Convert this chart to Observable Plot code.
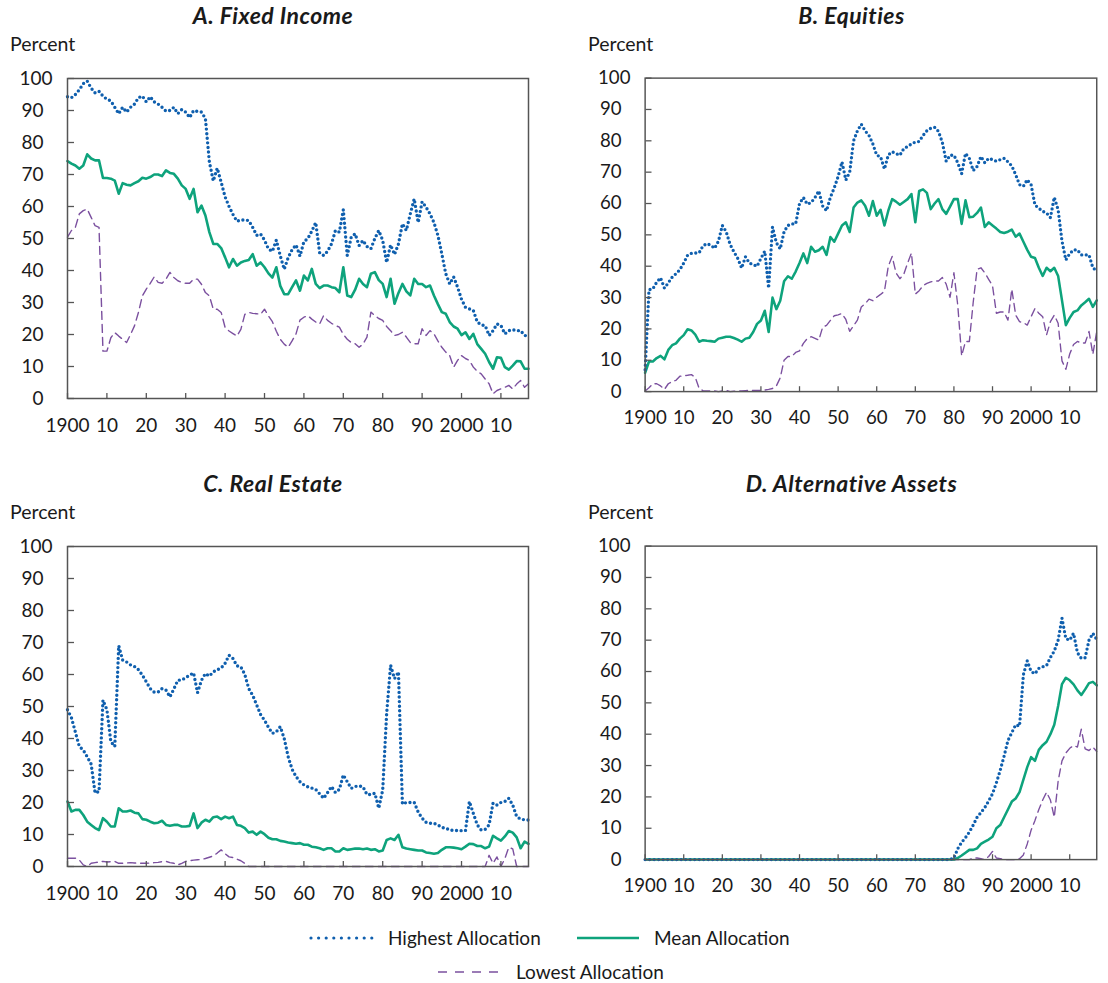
<!DOCTYPE html>
<html>
<head>
<meta charset="utf-8">
<script src="https://cdn.jsdelivr.net/npm/d3@7"></script>
<script src="https://cdn.jsdelivr.net/npm/@observablehq/plot@0.6"></script>
<style>
  body { margin: 0; background: #fff; font-family: Lato, "Noto Sans", sans-serif; color: #1a1a1a; }
  #wrap { position: relative; width: 1108px; height: 983px; overflow: hidden; }
  .title { position: absolute; font-weight: 700; font-style: italic; font-size: 23px; letter-spacing: 0.5px; line-height: 24px; text-align: center; white-space: nowrap; }
  .unit { position: absolute; font-size: 19.5px; line-height: 22px; }
  .panel { position: absolute; }
  .leg { position: absolute; font-size: 19px; line-height: 22px; white-space: nowrap; }
  .sample { position: absolute; }
</style>
</head>
<body>
<div id="wrap"></div>
<script>
// ---------------- data ----------------
const years = d3.range(1900, 2018);

const yTicks = [0, 10, 20, 30, 40, 50, 60, 70, 80, 90, 100];
const xTicks = [1900, 1910, 1920, 1930, 1940, 1950, 1960, 1970, 1980, 1990, 2000, 2010];
const xTickLabels = ["1900", "10", "20", "30", "40", "50", "60", "70", "80", "90", "2000", "10"];

const panelTitles = ["A. Fixed Income", "B. Equities", "C. Real Estate", "D. Alternative Assets"];
const seriesNames = ["Highest Allocation", "Mean Allocation", "Lowest Allocation"];

// A. Fixed Income
const fixedHigh = [
  94.3, 94, 95, 96.5, 98.4, 99.2, 97, 95.5, 96, 94.5,
  93.5, 93, 91, 89, 91, 89.5, 91, 92, 94, 94.5,
  92.7, 94.3, 92.7, 92, 91, 89.8, 90, 91, 89, 90.3,
  89.5, 87.8, 90, 89.7, 89.5, 87.5, 74, 68, 72, 67.6,
  63, 60, 57.5, 55.4, 55.8, 55.8, 55.6, 53.5, 51, 51.4,
  49.5, 46.7, 46, 49.5, 44.6, 40.4, 44, 46.5, 48, 44.5,
  49, 50, 52.3, 55, 45.5, 44.7, 46, 48.3, 52.5, 52,
  59, 44.7, 50.4, 51.5, 47.8, 49.4, 47.5, 46.8, 50, 52.5,
  49.4, 42.5, 48, 45, 48.3, 54.6, 52.5, 57.7, 62.4, 55,
  61.5, 59.8, 57.7, 55, 51, 45.2, 39, 35.8, 38, 34.8,
  31, 28.5, 28, 27.5, 23.9, 23, 22.8, 19.7, 21.2, 23.3,
  22.8, 20.2, 21.2, 21.5, 21.2, 21.2, 19.7, 19.5
];
const fixedMean = [
  74.2, 73.4, 72.8, 71.8, 72.8, 76.3, 75, 74.4, 74.4, 68.9,
  68.9, 68.7, 68.1, 64, 67.3, 66.8, 66.6, 67.3, 67.9, 69,
  68.7, 69.2, 70, 70, 69.5, 71.3, 70.5, 70.2, 68.7, 66.6,
  65.5, 62.4, 65.5, 58.2, 60.3, 57.2, 52, 48.3, 48.3, 47,
  44.1, 41, 43.6, 41.5, 42.5, 43, 43.3, 45.1, 41.5, 42.5,
  41, 39.1, 37.8, 41, 35.2, 32.6, 32.6, 34.8, 36.9, 33.7,
  38.4, 36.9, 40.5, 35.8, 34.5, 35.3, 35.3, 34.8, 34.5, 33.2,
  41, 32.2, 31.7, 34, 37.4, 35.8, 34.8, 39, 39.5, 37,
  35.8, 31.7, 37.4, 29.6, 33, 35.8, 33.5, 32.2, 37.4, 35.8,
  35.8, 34.8, 35.3, 32.2, 29.5, 27, 26.5, 23.9, 22.5, 21.8,
  19.8, 20.7, 18.6, 20.2, 17, 15.5, 14, 11.4, 9.3, 12.9,
  12.7, 9.8, 9, 10.3, 11.7, 11.6, 9.3, 9.3
];
const fixedLow = [
  50.4, 52.5, 53.5, 57.7, 58.7, 59.2, 56.6, 54, 53.5, 14.8,
  14.8, 19, 20.6, 19.5, 18.5, 17.5, 20, 22.7, 26.9, 32.1,
  34.2, 36, 38, 36.3, 36, 37.3, 39.4, 37.8, 36.8, 36.3,
  36, 36, 37.3, 37.3, 35.7, 33.1, 32.1, 27.9, 27.9, 26.9,
  22.2, 21.1, 20.3, 19.5, 21.6, 26.3, 26.9, 26.6, 26.5, 26.3,
  27.9, 25.8, 24, 21, 18.5, 17, 16, 18, 20.2, 24.5,
  25.4, 25.9, 24.8, 23.9, 23.3, 25.9, 24.4, 23.5, 22.8, 22.3,
  20, 18.5, 17.5, 17.1, 16, 17, 19.2, 27, 25.9, 25,
  24.4, 22.5, 21.2, 19.7, 20, 20.7, 19.2, 17.5, 17.1, 17.1,
  21.8, 19.7, 21.2, 20.2, 18, 16, 14.5, 13.4, 9.8, 11.9,
  13.4, 12.5, 11.9, 9.8, 8.5, 7.7, 6.1, 4.6, 1.5, 2.5,
  3, 3.5, 4.1, 3, 4.5, 5.6, 3.5, 4.6
];

// B. Equities
const equityHigh = [
  7, 32.5, 32.8, 34.9, 36.3, 33, 34.7, 36.5, 37.6, 38.9,
  41, 43.5, 44.1, 44.2, 44.3, 46.5, 47.2, 46.7, 45.7, 48,
  53, 51, 47, 44.6, 42.5, 39.4, 43, 41, 40.5, 40,
  42.5, 44.8, 33, 52.5, 47.5, 45.5, 51, 53, 53.5, 53.5,
  60, 61.9, 59.8, 60.3, 61.9, 64, 59.2, 57.7, 62, 65,
  68.6, 73.3, 67.5, 70, 80, 83.2, 85.3, 83.2, 81.7, 79,
  75.4, 74.9, 71, 75.5, 76.5, 75.9, 75.4, 77.5, 78.2, 79,
  79.6, 79.8, 81.7, 83.2, 84, 84.3, 83, 79.5, 73.5, 75.4,
  75.4, 73, 69.5, 76, 74.4, 70.5, 71.8, 75, 73, 74.4,
  74, 73.5, 74, 74.4, 73.3, 72, 69.2, 66, 65.5, 67.6,
  66, 59.5, 58.5, 57.5, 57, 55.5, 62, 58, 48, 42,
  44, 45.2, 45.2, 43.6, 43.6, 43.6, 39.5, 38.5
];
const equityMean = [
  6, 9.6, 9.6, 10.7, 11.4, 10.3, 13.3, 14.8, 15.4, 16.9,
  18, 19.9, 19.5, 18.2, 15.9, 16.4, 16.2, 16.1, 15.9, 16.9,
  17.2, 17.5, 17.5, 17.1, 16.6, 15.9, 16.9, 17.2, 19, 21.6,
  22.7, 25.8, 19, 30, 26.3, 29, 35.2, 36.8, 36, 38.3,
  41, 44.1, 41, 46.2, 44.6, 45.1, 46.2, 43.6, 49.3, 47.8,
  50.4, 53, 54, 50.9, 58.7, 60.3, 61, 59.3, 56.1, 60.8,
  56.1, 58, 53, 57.7, 61.4, 60.6, 59.6, 60.5, 61.4, 63,
  54, 64, 64.5, 63.4, 58.2, 60, 61.4, 58.2, 56.7, 59,
  61.4, 61.4, 53.5, 61, 55.6, 55.8, 57, 58.7, 52.5, 54,
  53, 52, 50.9, 50.6, 51, 51.7, 49.4, 50.4, 47.8, 45.2,
  43, 42.6, 39.5, 36.9, 39.5, 38.4, 39.5, 36.9, 29.1, 21.2,
  23.5, 25.4, 25.9, 27.5, 28.5, 29.6, 27, 29.1
];
const equityLow = [
  0.2, 1.2, 2.5, 2.5, 1.8, 0.7, 2.5, 3.2, 3.6, 4.9,
  5.1, 5.2, 5.4, 4.5, 1, 0.3, 0.2, 0.2, 0.2, 0,
  0.2, 0.4, 0, 0.1, 0.2, 0.2, 0.3, 0.4, 0.4, 0.4,
  0.4, 0.5, 0.7, 1, 1.8, 4.4, 10, 11.2, 11.2, 12.5,
  13, 15.4, 16.9, 17.5, 17, 16.4, 20.6, 21.1, 22.7, 24.2,
  24.5, 24.9, 23, 19.2, 21, 22.8, 27, 28, 29.5, 29,
  30.1, 31, 32, 40, 43.1, 37.9, 36, 37.4, 41, 44.2,
  31.1, 32.2, 33.8, 34.5, 35, 35.3, 35.3, 36.4, 34.3, 30.1,
  37.9, 27.5, 11.4, 16, 16, 28.5, 39, 39.5, 37.9, 35.8,
  33.8, 25, 25.4, 25.4, 22.8, 32.7, 24.4, 22.3, 22, 21.2,
  23.9, 26.5, 25, 23.9, 18.1, 22.3, 24.4, 21.8, 9.8, 7.1,
  12, 15, 16, 15.5, 15.5, 19.2, 11.9, 19.2
];

// C. Real Estate
const realHigh = [
  49, 46.5, 42, 37.5, 36.4, 34.3, 32, 23, 23.4, 52,
  49, 39, 37.5, 69, 64.5, 63.9, 63, 62.5, 61.5, 59.8,
  57.7, 55.6, 54.5, 54.5, 55.6, 55.1, 53, 55.5, 58.2, 58.3,
  59, 59.8, 60.5, 54.3, 58.2, 60.3, 59.5, 60.8, 61.5, 62,
  63.5, 66, 65, 62.7, 62.4, 60, 55.6, 53.5, 50.5, 47.5,
  45.7, 43.5, 41.6, 42.1, 43.7, 40, 34.3, 30.4, 28.1, 26.5,
  25.5, 24.9, 24.5, 24.1, 22.7, 21.3, 23.1, 25, 23.1, 24.1,
  28.6, 26.5, 24.4, 25, 25.2, 24.9, 22.5, 22.5, 22.9, 18.2,
  23.9, 47.8, 62.9, 58.7, 60.8, 19.5, 20, 20, 20, 17,
  15.1, 13.8, 13.5, 13.5, 13, 12.2, 12, 11.4, 11.3, 11.2,
  11.2, 11.2, 20.3, 16.6, 13, 11.4, 11.6, 13, 19.8, 19.2,
  20, 20.3, 21.3, 19.2, 15.6, 14.8, 14.6, 14.5
];
const realMean = [
  20.3, 17.2, 17.7, 17.7, 16.1, 14, 13, 12, 11.4, 15.1,
  14, 12.5, 12.5, 18.2, 17.2, 17.2, 17.5, 16.8, 16.6, 14.8,
  14.6, 14, 13.5, 13.7, 14.3, 13, 12.7, 13, 13, 12.5,
  12.5, 12.7, 16.6, 12, 13.7, 14.6, 14, 15.4, 15.6, 14.8,
  15.6, 15.1, 15.6, 13, 12.7, 12, 10.6, 10.9, 9.9, 10.9,
  10.1, 9, 8.5, 8.5, 8, 7.8, 7.5, 7.3, 7.1, 7.3,
  6.8, 6.8, 6.2, 6, 5.7, 5.2, 5.7, 5.7, 4.7, 4.7,
  5.7, 5.2, 5.4, 5.6, 5.6, 5.4, 5.6, 5.2, 5.4, 4.7,
  5, 8.3, 8.8, 8.3, 9.9, 6, 5.6, 5.4, 5.2, 5,
  5, 4.4, 4.2, 4, 4.2, 5.2, 6, 6, 5.9, 5.7,
  5.4, 6.2, 7.1, 7, 6.4, 6.4, 5.7, 6.2, 9.6, 8.8,
  8.1, 9.4, 11.1, 10.6, 9.1, 5.7, 7.8, 7.1
];
const realLow = [
  2.6, 2.6, 2.6, 2, 0.5, 0, 1, 1.2, 1.4, 1.6,
  1.4, 1.5, 1.6, 1, 1, 1.1, 1.2, 1.1, 1, 1,
  1, 1.1, 1.2, 1.3, 1.5, 1.6, 1.2, 1, 0.5, 1,
  1.6, 1.8, 2, 2.1, 2.2, 2.5, 2.9, 3.3, 4.2, 5.2,
  4, 3, 2.8, 2.3, 1.8, 1, 0, 0, 0, 0,
  0, 0, 0, 0, 0, 0, 0, 0, 0, 0,
  0, 0, 0, 0, 0, 0, 0, 0, 0, 0,
  0, 0, 0, 0, 0, 0, 0, 0, 0, 0,
  0, 0, 0, 0, 0, 0, 0, 0, 0, 0,
  0, 0, 0, 0, 0, 0, 0, 0, 0, 0,
  0, 0, 0, 0, 0, 0, 0, 3.5, 1, 3,
  0, 2.5, 6, 5.5, 0, 0, 0, 0
];

// D. Alternative Assets
const altHigh = [
  0, 0, 0, 0, 0, 0, 0, 0, 0, 0,
  0, 0, 0, 0, 0, 0, 0, 0, 0, 0,
  0, 0, 0, 0, 0, 0, 0, 0, 0, 0,
  0, 0, 0, 0, 0, 0, 0, 0, 0, 0,
  0, 0, 0, 0, 0, 0, 0, 0, 0, 0,
  0, 0, 0, 0, 0, 0, 0, 0, 0, 0,
  0, 0, 0, 0, 0, 0, 0, 0, 0, 0,
  0, 0, 0, 0, 0, 0, 0, 0, 0, 0,
  0.5, 3.5, 5.5, 7, 8.8, 11, 13.5, 15, 16.6, 18.7,
  21, 24.5, 28.5, 33, 38, 40.5, 43, 42.6, 59, 63.4,
  60, 59.3, 61, 61.5, 61.9, 64.5, 66.5, 70, 77, 70.5,
  70, 72.2, 66, 64.2, 64.4, 70, 72.2, 70.2
];
const altMean = [
  0, 0, 0, 0, 0, 0, 0, 0, 0, 0,
  0, 0, 0, 0, 0, 0, 0, 0, 0, 0,
  0, 0, 0, 0, 0, 0, 0, 0, 0, 0,
  0, 0, 0, 0, 0, 0, 0, 0, 0, 0,
  0, 0, 0, 0, 0, 0, 0, 0, 0, 0,
  0, 0, 0, 0, 0, 0, 0, 0, 0, 0,
  0, 0, 0, 0, 0, 0, 0, 0, 0, 0,
  0, 0, 0, 0, 0, 0, 0, 0, 0, 0,
  0, 0.5, 1.3, 2.2, 3.1, 3.1, 3.6, 5, 5.7, 6.4,
  7.3, 10, 11, 13.5, 16, 18.5, 19.5, 21.5, 25.5, 29.5,
  32.7, 31.5, 35, 36.5, 37.6, 40, 43, 49, 56, 58,
  57.2, 55.9, 54, 52.5, 54.3, 56.3, 56.7, 55.6
];
const altLow = [
  0, 0, 0, 0, 0, 0, 0, 0, 0, 0,
  0, 0, 0, 0, 0, 0, 0, 0, 0, 0,
  0, 0, 0, 0, 0, 0, 0, 0, 0, 0,
  0, 0, 0, 0, 0, 0, 0, 0, 0, 0,
  0, 0, 0, 0, 0, 0, 0, 0, 0, 0,
  0, 0, 0, 0, 0, 0, 0, 0, 0, 0,
  0, 0, 0, 0, 0, 0, 0, 0, 0, 0,
  0, 0, 0, 0, 0, 0, 0, 0, 0, 0,
  0, 0, 0, 0, 0, 0.5, 0.5, 0.3, 0, 1,
  2.6, 0.5, 0.3, 0, 0, 0, 0, 0.3, 1.5, 5,
  9.4, 12.5, 16, 19, 21.5, 19, 13.5, 25, 31.5, 34,
  35.5, 36.4, 35.9, 41.6, 35.3, 34.8, 35.9, 34.5
];

// ---------------- styling ----------------
const BLUE = "#0f5fae";
const GREEN = "#0ea37c";
const PURPLE = "#7b509f";
const FRAME = "#555555";
const TEXT = "#1a1a1a";

const wrap = document.getElementById("wrap");

function rows(vals) { return years.map((y, i) => ({ year: y, v: vals[i] })); }

const yTicksLow = yTicks.filter(d => d < 100);
const yTicksTop = yTicks.filter(d => d >= 100);

function makePanel(high, mean, low) {
  return Plot.plot({
    width: 540,
    height: 383,
    marginLeft: 67,
    marginRight: 12,
    marginTop: 18,
    marginBottom: 45,
    x: { domain: [1900, 2017] },
    y: { domain: [0, 100] },
    style: { fontFamily: "Lato, 'Noto Sans', sans-serif", fontSize: "19px", color: TEXT, background: "transparent", overflow: "visible" },
    marks: [
      Plot.line(rows(low), { x: "year", y: "v", stroke: PURPLE, strokeWidth: 1.4, strokeDasharray: "8 5" }),
      Plot.line(rows(mean), { x: "year", y: "v", stroke: GREEN, strokeWidth: 2.6 }),
      Plot.line(rows(high), { x: "year", y: "v", stroke: BLUE, strokeWidth: 3.4, strokeDasharray: "0 4.6", strokeLinecap: "round" }),
      Plot.frame({ stroke: FRAME, strokeWidth: 1.5 }),
      Plot.axisY(yTicksLow, { anchor: "left", tickSize: 0, tickPadding: 24, label: null, fill: TEXT }),
      Plot.axisY(yTicksTop, { anchor: "left", tickSize: 0, tickPadding: 15, label: null, fill: TEXT }),
      Plot.axisY(yTicks, { anchor: "right", frameAnchor: "left", fill: "none", tickSize: 6, stroke: FRAME, strokeWidth: 1.3, label: null }),
      Plot.axisX(xTicks, { anchor: "bottom", tickSize: 0, tickPadding: 20, label: null, fill: TEXT, tickFormat: d => xTickLabels[xTicks.indexOf(d)] }),
      Plot.axisX(xTicks, { anchor: "top", frameAnchor: "bottom", fill: "none", tickSize: 6, stroke: FRAME, strokeWidth: 1.3, label: null })
    ]
  });
}

const layout = [
  { left: 0, top: 60, titleX: 273, titleY: 2.5, unitX: 10, unitY: 33, data: [fixedHigh, fixedMean, fixedLow] },
  { left: 579, top: 60, titleX: 851.5, titleY: 2.5, unitX: 588, unitY: 33, data: [equityHigh, equityMean, equityLow] },
  { left: 0, top: 528, titleX: 273, titleY: 470.5, unitX: 10, unitY: 501, data: [realHigh, realMean, realLow] },
  { left: 579, top: 528, titleX: 851.5, titleY: 470.5, unitX: 588, unitY: 501, data: [altHigh, altMean, altLow] }
];

layout.forEach((p, i) => {
  const t = document.createElement("div");
  t.className = "title";
  t.textContent = panelTitles[i];
  t.style.left = (p.titleX - 200) + "px";
  t.style.width = "400px";
  t.style.top = p.titleY + "px";
  wrap.appendChild(t);

  const u = document.createElement("div");
  u.className = "unit";
  u.textContent = "Percent";
  u.style.left = p.unitX + "px";
  u.style.top = p.unitY + "px";
  wrap.appendChild(u);

  const holder = document.createElement("div");
  holder.className = "panel";
  holder.style.left = p.left + "px";
  holder.style.top = p.top + "px";
  holder.appendChild(makePanel(...p.data));
  wrap.appendChild(holder);
});

// ---------------- legend ----------------
function sample(x, yc, w, stroke, sw, dash, cap) {
  const ns = "http://www.w3.org/2000/svg";
  const svg = document.createElementNS(ns, "svg");
  svg.setAttribute("width", w + 6);
  svg.setAttribute("height", 10);
  svg.setAttribute("class", "sample");
  svg.style.left = (x - 3) + "px";
  svg.style.top = (yc - 5) + "px";
  const l = document.createElementNS(ns, "line");
  l.setAttribute("x1", 3); l.setAttribute("x2", w + 3);
  l.setAttribute("y1", 5); l.setAttribute("y2", 5);
  l.setAttribute("stroke", stroke);
  l.setAttribute("stroke-width", sw);
  if (dash) l.setAttribute("stroke-dasharray", dash);
  if (cap) l.setAttribute("stroke-linecap", cap);
  svg.appendChild(l);
  wrap.appendChild(svg);
}
function legText(x, yc, txt) {
  const d = document.createElement("div");
  d.className = "leg";
  d.textContent = txt;
  d.style.left = x + "px";
  d.style.top = (yc - 11) + "px";
  wrap.appendChild(d);
}
sample(311, 938, 61, BLUE, 3.2, "0 7.6", "round");
legText(388, 938, seriesNames[0]);
sample(577, 938, 62, GREEN, 2.6);
legText(654, 938, seriesNames[1]);
sample(438, 972, 60, PURPLE, 1.5, "9 8");
legText(516, 972, seriesNames[2]);
</script>
</body>
</html>
